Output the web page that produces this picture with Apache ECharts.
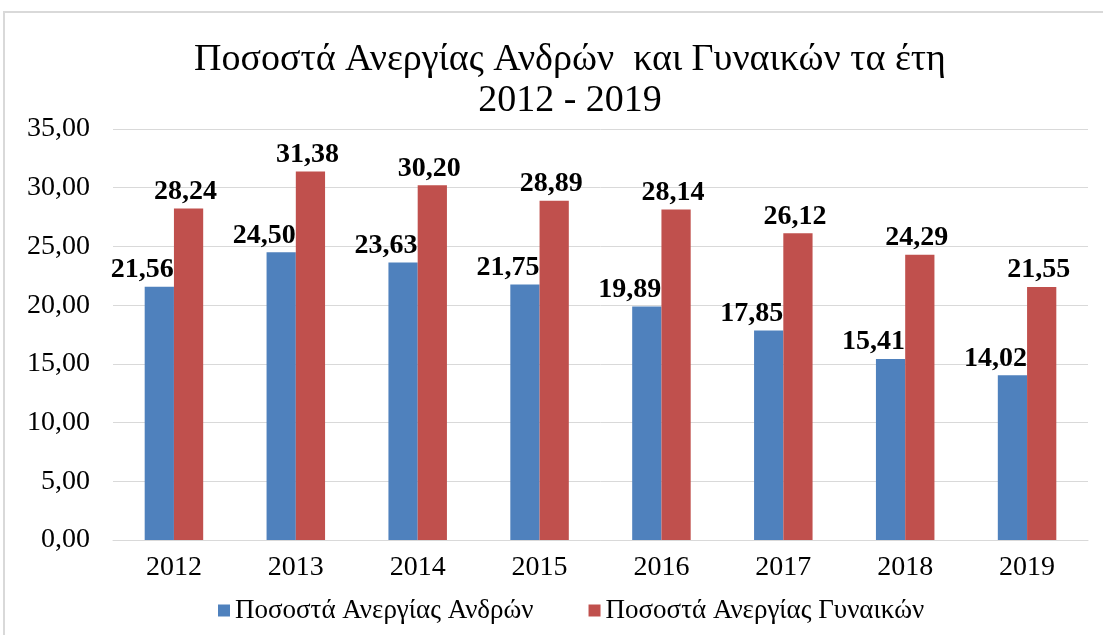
<!DOCTYPE html>
<html>
<head>
<meta charset="utf-8">
<script src="https://cdn.jsdelivr.net/npm/echarts@6/dist/echarts.min.js"></script>
<style>
  html, body { margin: 0; padding: 0; background: #fff; }
  #chart { width: 1103px; height: 635px; }
</style>
</head>
<body>
<div id="chart"></div>
<script>
// δεδομένα
var years = ['2012', '2013', '2014', '2015', '2016', '2017', '2018', '2019'];
var men = [21.56, 24.50, 23.63, 21.75, 19.89, 17.85, 15.41, 14.02];
var women = [28.24, 31.38, 30.20, 28.89, 28.14, 26.12, 24.29, 21.55];
var menName = 'Ποσοστά Ανεργίας Ανδρών';
var womenName = 'Ποσοστά Ανεργίας Γυναικών';

var serif = '"Liberation Serif", "DejaVu Serif", serif';

function fmt(v) {
  return Number(v).toFixed(2).replace('.', ',');
}

var chart = echarts.init(document.getElementById('chart'));
var option = {
  backgroundColor: '#fff',
  animation: false,
  textStyle: { fontFamily: serif },
  title: {
    text: 'Ποσοστά Ανεργίας Ανδρών  και Γυναικών τα έτη\n2012 - 2019',
    left: 565,
    textAlign: 'center',
    top: 35,
    textStyle: { fontFamily: serif, fontSize: 38, fontWeight: 'normal', color: '#000', lineHeight: 41 }
  },
  graphic: [{
    type: 'rect',
    shape: { x: 4, y: 12, width: 1120, height: 650 },
    style: { fill: 'none', stroke: '#d9d9d9', lineWidth: 2 },
    silent: true
  }],
  legend: {
    bottom: 6,
    left: 213,
    itemWidth: 12,
    itemHeight: 12,
    itemGap: 55,
    icon: 'rect',
    textStyle: { fontFamily: serif, fontSize: 27, color: '#000' },
    data: [menName, womenName]
  },
  grid: { left: 113, right: 15, top: 129, bottom: 95 },
  xAxis: {
    type: 'category',
    data: years,
    axisTick: { show: false },
    axisLine: { lineStyle: { color: '#d9d9d9', width: 1 } },
    axisLabel: { color: '#000', fontFamily: serif, fontSize: 28, margin: 14 }
  },
  yAxis: {
    type: 'value',
    min: 0,
    max: 35,
    interval: 5,
    axisLine: { show: false },
    axisTick: { show: false },
    splitLine: { lineStyle: { color: '#d9d9d9', width: 1 } },
    axisLabel: { color: '#000', fontFamily: serif, fontSize: 28, margin: 23, formatter: fmt }
  },
  series: [
    {
      name: menName,
      type: 'bar',
      data: men,
      itemStyle: { color: '#4f81bd' },
      barGap: '0%',
      barCategoryGap: '52%',
      label: {
        // ετικέτες λίγο αριστερά, όπως στο Excel
        show: true, position: 'top', distance: 3, offset: [-17, 0],
        fontFamily: serif, fontSize: 28, fontWeight: 'bold', color: '#000',
        formatter: function (p) { return fmt(p.value); }
      }
    },
    {
      name: womenName,
      type: 'bar',
      data: women,
      itemStyle: { color: '#c0504d' },
      barGap: '0%',
      barCategoryGap: '52%',
      label: {
        show: true, position: 'top', distance: 3, offset: [-3, 0],
        fontFamily: serif, fontSize: 28, fontWeight: 'bold', color: '#000',
        formatter: function (p) { return fmt(p.value); }
      }
    }
  ]
};
chart.setOption(option);
</script>
</body>
</html>
